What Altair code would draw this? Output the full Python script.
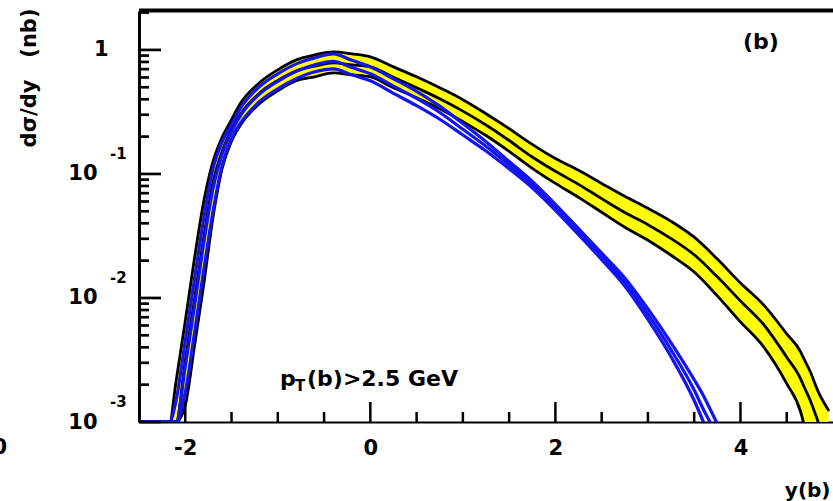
import altair as alt
import pandas as pd

# ---------------- data ----------------
x_min, x_max = -2.5, 5.0
y_min, y_max = 0.001, 2.06

# yellow / black band
band_x = [-2.5, -2.17, -2.1, -2.0, -1.9, -1.8, -1.7, -1.6, -1.5, -1.4,
          -1.2, -1.0, -0.8, -0.6, -0.4, -0.2, 0.0, 0.25, 0.5, 0.75,
          1.0, 1.25, 1.5, 1.75, 2.0, 2.25, 2.5, 2.75, 3.0, 3.25,
          3.5, 3.75, 4.0, 4.25, 4.5, 4.65, 4.68, 4.75, 4.84, 4.95]
band_up = [0.001, 0.001, 0.00211, 0.00653, 0.0210, 0.0601, 0.126, 0.199, 0.274, 0.375,
           0.543, 0.691, 0.831, 0.912, 0.964, 0.929, 0.879, 0.730, 0.607, 0.495,
           0.397, 0.306, 0.232, 0.173, 0.133, 0.107, 0.0839, 0.0660, 0.0528, 0.0415,
           0.0309, 0.0206, 0.0132, 0.00879, 0.00514, 0.00368, 0.0033, 0.00259, 0.00176, 0.00125]
band_mid = [0.001, 0.001, 0.001, 0.00312, 0.0098, 0.0309, 0.0855, 0.154, 0.228, 0.306,
            0.448, 0.568, 0.679, 0.740, 0.787, 0.758, 0.730, 0.603, 0.495, 0.404,
            0.321, 0.248, 0.186, 0.137, 0.105, 0.0824, 0.0632, 0.0488, 0.0390, 0.0301,
            0.0223, 0.0148, 0.00946, 0.00611, 0.00333, 0.00223, 0.00198, 0.00152, 0.001, None]
band_low = [0.001, 0.001, 0.001, 0.00136, 0.00411, 0.0129, 0.0448, 0.112, 0.184, 0.250,
            0.368, 0.469, 0.564, 0.607, 0.654, 0.630, 0.607, 0.495, 0.412, 0.336,
            0.264, 0.204, 0.152, 0.111, 0.0839, 0.0648, 0.0491, 0.0372, 0.0292, 0.0221,
            0.0162, 0.0104, 0.00641, 0.00404, 0.00204, 0.00121, 0.001, None, None, None]

# blue band
blue_x = [-2.5, -2.17, -2.1, -2.0, -1.9, -1.8, -1.7, -1.6, -1.5, -1.4,
          -1.2, -1.0, -0.8, -0.6, -0.4, -0.2, 0.0,
          0.25, 0.5, 0.75, 1.0, 1.25, 1.5, 1.75, 2.0, 2.25, 2.5, 2.75, 3.0, 3.25, 3.5,
          3.6, 3.67, 3.74]
blue_up = [0.001, 0.001, 0.00148, 0.00452, 0.0142, 0.0439, 0.111, 0.182, 0.250, 0.342,
           0.505, 0.642, 0.772, 0.863, 0.929, 0.824, 0.730,
           0.585, 0.464, 0.352, 0.255, 0.182, 0.126, 0.0871, 0.0569, 0.0362, 0.0230, 0.0145, 0.00816, 0.00435, 0.00219,
           0.00163, 0.00128, 0.001]
blue_mid = [0.001, 0.001, 0.001, 0.00279, 0.00863, 0.0279, 0.0765, 0.146, 0.219, 0.298,
            0.439, 0.558, 0.672, 0.758, 0.809, 0.721, 0.642,
            0.511, 0.406, 0.313, 0.229, 0.167, 0.118, 0.0820, 0.0538, 0.0342, 0.0216, 0.0134, 0.00740, 0.00382, 0.00181,
            0.00126, 0.001, None]
blue_low = [0.001, 0.001, 0.001, 0.00173, 0.00524, 0.0168, 0.050, 0.118, 0.193, 0.259,
            0.382, 0.486, 0.585, 0.666, 0.704, 0.630, 0.564,
            0.447, 0.355, 0.276, 0.206, 0.153, 0.110, 0.0772, 0.0509, 0.0324, 0.0204, 0.0125, 0.00672, 0.00336, 0.00149,
            0.001, None, None]

# axis ticks / labels
x_label_values = [-2, 0, 2, 4]
x_minor_ticks = [-1.5, -1.0, -0.5, 0.5, 1.0, 1.5, 2.5, 3.0, 3.5, 4.5]
y_label_values = [1, 0.1, 0.01, 0.001]
y_minor_ticks = [2.0] + [k * d for d in (0.1, 0.01, 0.001) for k in range(2, 10)]
y_exponent_values = [0.1, 0.01, 0.001]
y_exponent_texts = ["-1", "-2", "-3"]

# annotations
panel_tag = "(b)"
panel_tag_x, panel_tag_y = 4.22, 1.16
cut_x, cut_y = -0.976, 0.00196
x_title = "y(b)"
y_title = "d\u03c3/dy\u00a0\u00a0\u00a0(nb)"

# ---------------- layout / style ----------------
W, H = 694, 411
FONT = "DejaVu Sans"
BLUE = "#1414ee"
YELLOW = "#ffff00"

x_scale = alt.Scale(domain=[x_min, x_max], nice=False, zero=False)
y_scale = alt.Scale(type="log", domain=[y_min, y_max], nice=False)

x_axis = alt.Axis(
    values=x_label_values, labelExpr="'' + datum.value", ticks=False, grid=False,
    domain=True, domainColor="black", domainWidth=2,
    labelFont=FONT, labelFontWeight="bold", labelFontSize=21, labelColor="black",
    labelPadding=15, labelFlush=False, labelOverlap=False,
    title=x_title, titleFont=FONT, titleFontWeight="bold", titleFontSize=20,
    titleColor="black", titleX=W - 3, titleY=74, titleAlign="right", titleBaseline="alphabetic",
)
y_axis = alt.Axis(
    values=y_label_values, labelExpr="datum.value == 1 ? '1' : '10'", ticks=False, grid=False,
    domain=True, domainColor="black", domainWidth=3,
    labelFont=FONT, labelFontWeight="bold", labelFontSize=21, labelColor="black",
    labelBaseline="middle", labelFlush=False, labelOverlap=False,
    labelPadding={"condition": {"test": "datum.value == 1", "value": 31}, "value": 42},
    title=y_title, titleFont=FONT, titleFontWeight="bold", titleFontSize=21,
    titleColor="black", titleX=-110, titleY=-3, titleAngle=270, titleAlign="right",
    titleBaseline="middle",
)

X = alt.X("x:Q", scale=x_scale, axis=x_axis)
Y = alt.Y("y:Q", scale=y_scale, axis=y_axis)

# ---------------- tables ----------------
band_df = pd.DataFrame({"x": band_x, "y": band_up, "y2": band_low})
band_df["y2"] = band_df["y2"].fillna(y_min)

def long_df(xs, series):
    rows = []
    for name, vals in series.items():
        for xv, yv in zip(xs, vals):
            if yv is not None:
                rows.append({"x": xv, "y": yv, "s": name})
    return pd.DataFrame(rows)

black_df = long_df(band_x, {"up": band_up, "mid": band_mid, "low": band_low})
blue_df = long_df(blue_x, {"up": blue_up, "mid": blue_mid, "low": blue_low})

area = alt.Chart(band_df).mark_area(color=YELLOW, interpolate="monotone", clip=True).encode(
    x=X, y=Y, y2="y2:Q")

black_lines = alt.Chart(black_df).mark_line(
    color="black", strokeWidth=2.8, interpolate="monotone", clip=True,
    strokeCap="round", strokeJoin="round").encode(x=X, y=Y, detail="s:N")

blue_lines = alt.Chart(blue_df).mark_line(
    color=BLUE, strokeWidth=3.2, interpolate="monotone", clip=True,
    strokeCap="round", strokeJoin="round").encode(x=X, y=Y, detail="s:N")

# inward ticks
xt_major = alt.Chart(pd.DataFrame({"x": x_label_values})).mark_rule(
    color="black", strokeWidth=2.5).encode(x=X, y=alt.value(H), y2=alt.value(H - 20))
xt_minor = alt.Chart(pd.DataFrame({"x": x_minor_ticks})).mark_rule(
    color="black", strokeWidth=2.5).encode(x=X, y=alt.value(H), y2=alt.value(H - 10))
yt_major = alt.Chart(pd.DataFrame({"y": y_label_values})).mark_rule(
    color="black", strokeWidth=2.7).encode(y=Y, x=alt.value(0), x2=alt.value(22))
yt_minor = alt.Chart(pd.DataFrame({"y": y_minor_ticks})).mark_rule(
    color="black", strokeWidth=2.7).encode(y=Y, x=alt.value(0), x2=alt.value(10))

top_frame = alt.Chart(pd.DataFrame({"k": [0]})).mark_rule(
    color="black", strokeWidth=4).encode(x=alt.value(0), x2=alt.value(W), y=alt.value(-0.5))

exponents = alt.Chart(pd.DataFrame({"y": y_exponent_values, "t": y_exponent_texts})).mark_text(
    align="left", baseline="middle", dx=-29, dy=-20, font=FONT, fontWeight="bold",
    fontSize=15, color="black").encode(x=alt.datum(x_min), y=Y, text="t:N")

tag = alt.Chart(pd.DataFrame({"x": [panel_tag_x], "y": [panel_tag_y], "t": [panel_tag]})).mark_text(
    align="center", baseline="middle", font=FONT, fontWeight="bold", fontSize=22,
    color="black").encode(x=X, y=Y, text="t:N")

cut_df = pd.DataFrame({"x": [cut_x], "y": [cut_y]})
cut_p = alt.Chart(cut_df).mark_text(
    align="left", baseline="alphabetic", font=FONT, fontWeight="bold", fontSize=22,
    color="black", text="p").encode(x=X, y=Y)
cut_T = alt.Chart(cut_df).mark_text(
    align="left", baseline="alphabetic", dx=15, dy=5, font=FONT, fontWeight="bold",
    fontSize=15, color="black", text="T").encode(x=X, y=Y)
cut_rest = alt.Chart(cut_df).mark_text(
    align="left", baseline="alphabetic", dx=27, font=FONT, fontWeight="bold", fontSize=22,
    color="black", text="(b)>2.5 GeV").encode(x=X, y=Y)

# clipped label of the neighbouring panel at the far left
frag = alt.Chart(pd.DataFrame({"k": [0]})).mark_text(
    align="right", baseline="middle", dx=-132, dy=26, font=FONT, fontWeight="bold",
    fontSize=21, color="black", text="0").encode(x=alt.datum(x_min), y=alt.datum(y_min))

chart = alt.layer(
    area, black_lines, blue_lines,
    xt_major, xt_minor, yt_major, yt_minor, top_frame,
    exponents, tag, cut_p, cut_T, cut_rest, frag,
).properties(
    width=W, height=H,
    autosize=alt.AutoSizeParams(type="none"),
    padding={"left": 139, "top": 11, "right": 0, "bottom": 79},
    background="white",
).configure_view(stroke=None)

chart.save("out.html", embed_options={"renderer": "svg", "actions": False})
